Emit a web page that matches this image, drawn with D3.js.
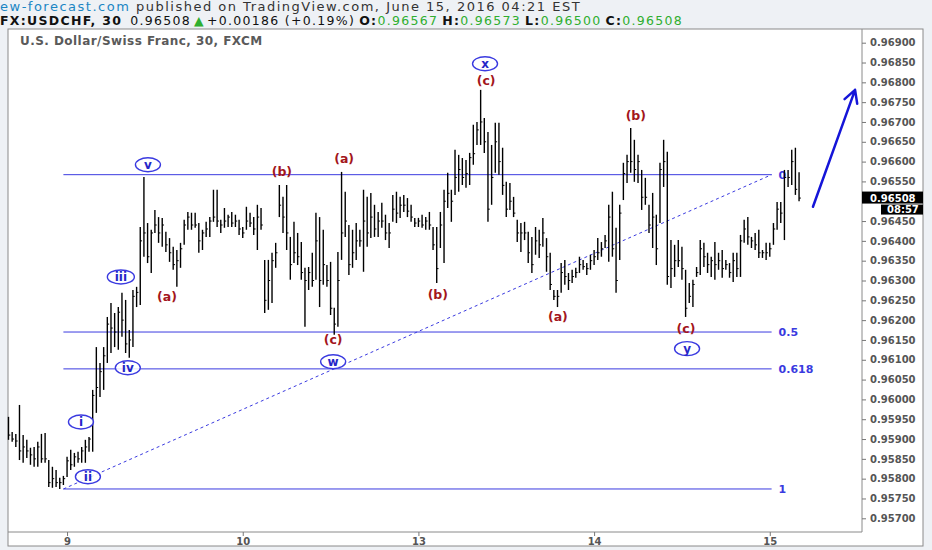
<!DOCTYPE html>
<html>
<head>
<meta charset="utf-8">
<script src="https://cdn.jsdelivr.net/npm/d3@7"></script>
<style>
  body { margin: 0; background: #eef1f5; }
  svg { display: block; }
</style>
</head>
<body>
<svg id="chart" width="932" height="550"></svg>
<script>
// 30 min USDCHF bars, one entry per bar
const barHigh = [
  0.95956,0.95918,0.95913,0.95986,0.95910,0.95898,0.95878,0.95880,0.95893,0.95913,
  0.95915,0.95847,0.95830,0.95822,0.95802,0.95807,0.95855,0.95873,0.95865,0.95868,
  0.95880,0.95898,0.95905,0.96024,0.96132,0.96092,0.96132,0.96208,0.96243,0.96218,
  0.96233,0.96269,0.96251,0.96175,0.96276,0.96284,0.96435,0.96561,0.96445,0.96428,
  0.96478,0.96460,0.96458,0.96423,0.96407,0.96385,0.96377,0.96395,0.96453,0.96473,
  0.96471,0.96471,0.96445,0.96428,0.96448,0.96460,0.96529,0.96529,0.96453,0.96483,
  0.96466,0.96473,0.96466,0.96453,0.96435,0.96486,0.96471,0.96460,0.96491,0.96483,
  0.96352,0.96352,0.96370,0.96395,0.96541,0.96511,0.96541,0.96410,0.96448,0.96420,
  0.96397,0.96332,0.96334,0.96370,0.96471,0.96460,0.96428,0.96339,0.96347,0.96231,
  0.96372,0.96574,0.96524,0.96440,0.96428,0.96445,0.96428,0.96529,0.96511,0.96521,
  0.96491,0.96473,0.96496,0.96466,0.96445,0.96516,0.96524,0.96511,0.96516,0.96508,
  0.96491,0.96458,0.96458,0.96466,0.96460,0.96473,0.96435,0.96435,0.96473,0.96529,
  0.96572,0.96529,0.96630,0.96617,0.96609,0.96604,0.96622,0.96693,0.96700,0.96781,
  0.96710,0.96675,0.96642,0.96698,0.96698,0.96635,0.96549,0.96546,0.96511,0.96453,
  0.96445,0.96448,0.96423,0.96410,0.96435,0.96428,0.96458,0.96407,0.96370,0.96276,
  0.96276,0.96344,0.96352,0.96319,0.96327,0.96332,0.96360,0.96352,0.96344,0.96365,
  0.96377,0.96407,0.96397,0.96415,0.96491,0.96524,0.96433,0.96491,0.96597,0.96617,
  0.96685,0.96655,0.96617,0.96579,0.96559,0.96491,0.96521,0.96466,0.96597,0.96655,
  0.96625,0.96402,0.96390,0.96402,0.96385,0.96327,0.96294,0.96302,0.96334,0.96402,
  0.96395,0.96370,0.96360,0.96397,0.96370,0.96377,0.96352,0.96344,0.96370,0.96370,
  0.96415,0.96453,0.96460,0.96410,0.96420,0.96428,0.96377,0.96395,0.96395,0.96445,
  0.96498,0.96498,0.96579,0.96579,0.96630,0.96635,0.96573
];
const barLow = [
  0.95898,0.95893,0.95880,0.95847,0.95840,0.95852,0.95835,0.95830,0.95830,0.95840,
  0.95840,0.95779,0.95777,0.95779,0.95774,0.95784,0.95804,0.95822,0.95830,0.95840,
  0.95840,0.95840,0.95868,0.95868,0.95966,0.96006,0.96024,0.96092,0.96117,0.96132,
  0.96125,0.96158,0.96117,0.96105,0.96132,0.96233,0.96238,0.96360,0.96344,0.96319,
  0.96420,0.96395,0.96385,0.96372,0.96347,0.96327,0.96284,0.96332,0.96390,0.96428,
  0.96428,0.96433,0.96370,0.96377,0.96410,0.96410,0.96448,0.96435,0.96420,0.96433,
  0.96435,0.96435,0.96435,0.96415,0.96407,0.96428,0.96435,0.96415,0.96377,0.96428,
  0.96218,0.96226,0.96243,0.96332,0.96460,0.96420,0.96377,0.96302,0.96344,0.96339,
  0.96302,0.96183,0.96276,0.96284,0.96302,0.96233,0.96289,0.96284,0.96213,0.96163,
  0.96183,0.96352,0.96410,0.96314,0.96332,0.96352,0.96385,0.96322,0.96385,0.96407,
  0.96410,0.96410,0.96433,0.96402,0.96382,0.96448,0.96445,0.96458,0.96473,0.96460,
  0.96448,0.96435,0.96435,0.96433,0.96428,0.96428,0.96377,0.96294,0.96382,0.96344,
  0.96483,0.96448,0.96516,0.96524,0.96541,0.96534,0.96541,0.96592,0.96642,0.96642,
  0.96622,0.96448,0.96491,0.96572,0.96567,0.96516,0.96460,0.96478,0.96460,0.96397,
  0.96372,0.96402,0.96344,0.96319,0.96365,0.96357,0.96385,0.96322,0.96276,0.96251,
  0.96233,0.96269,0.96289,0.96276,0.96294,0.96307,0.96319,0.96327,0.96314,0.96327,
  0.96339,0.96352,0.96360,0.96382,0.96347,0.96360,0.96269,0.96352,0.96503,0.96546,
  0.96572,0.96549,0.96546,0.96478,0.96491,0.96420,0.96382,0.96339,0.96445,0.96536,
  0.96289,0.96281,0.96309,0.96334,0.96302,0.96208,0.96243,0.96233,0.96309,0.96314,
  0.96334,0.96319,0.96309,0.96302,0.96327,0.96307,0.96327,0.96307,0.96296,0.96309,
  0.96309,0.96395,0.96390,0.96382,0.96377,0.96357,0.96357,0.96352,0.96360,0.96390,
  0.96428,0.96445,0.96402,0.96536,0.96541,0.96516,0.96500
];
const barClose = [
  0.95910,0.95900,0.95895,0.95870,0.95880,0.95870,0.95860,0.95850,0.95880,0.95850,
  0.95850,0.95790,0.95800,0.95790,0.95790,0.95800,0.95845,0.95835,0.95855,0.95850,
  0.95870,0.95880,0.95900,0.96010,0.96030,0.96070,0.96110,0.96190,0.96180,0.96170,
  0.96220,0.96200,0.96140,0.96150,0.96260,0.96270,0.96400,0.96420,0.96360,0.96420,
  0.96440,0.96420,0.96440,0.96390,0.96370,0.96340,0.96350,0.96380,0.96440,0.96460,
  0.96440,0.96440,0.96400,0.96420,0.96430,0.96450,0.96460,0.96450,0.96440,0.96450,
  0.96460,0.96445,0.96450,0.96430,0.96420,0.96450,0.96445,0.96430,0.96460,0.96440,
  0.96250,0.96300,0.96350,0.96370,0.96490,0.96460,0.96420,0.96340,0.96370,0.96360,
  0.96320,0.96300,0.96320,0.96300,0.96400,0.96300,0.96340,0.96300,0.96230,0.96190,
  0.96300,0.96420,0.96450,0.96340,0.96370,0.96400,0.96400,0.96450,0.96420,0.96460,
  0.96430,0.96450,0.96450,0.96420,0.96420,0.96480,0.96470,0.96490,0.96490,0.96475,
  0.96460,0.96445,0.96450,0.96440,0.96450,0.96440,0.96390,0.96330,0.96440,0.96500,
  0.96520,0.96500,0.96560,0.96580,0.96560,0.96570,0.96610,0.96620,0.96680,0.96700,
  0.96650,0.96480,0.96560,0.96650,0.96600,0.96540,0.96480,0.96500,0.96470,0.96420,
  0.96420,0.96420,0.96370,0.96340,0.96400,0.96390,0.96420,0.96360,0.96290,0.96260,
  0.96260,0.96320,0.96310,0.96300,0.96310,0.96320,0.96340,0.96335,0.96330,0.96350,
  0.96360,0.96370,0.96380,0.96400,0.96460,0.96380,0.96300,0.96470,0.96570,0.96600,
  0.96600,0.96580,0.96600,0.96510,0.96510,0.96440,0.96460,0.96380,0.96580,0.96600,
  0.96310,0.96330,0.96350,0.96350,0.96330,0.96230,0.96260,0.96290,0.96320,0.96380,
  0.96360,0.96340,0.96350,0.96340,0.96350,0.96330,0.96340,0.96320,0.96350,0.96330,
  0.96400,0.96430,0.96410,0.96400,0.96390,0.96370,0.96370,0.96370,0.96380,0.96430,
  0.96480,0.96470,0.96560,0.96560,0.96600,0.96530,0.96508
];

// day separators on the time axis (bar index of each new day)
const dayIndex = [16, 64, 112, 160, 208];
const dayLabels = ["9", "10", "13", "14", "15"];

// fibonacci retracement drawn from the 0.95774 low to the 0.96567 high
const fibLevels = ["0", "0.5", "0.618", "1"];
const fibPrices = [0.96567, 0.96170, 0.96077, 0.95774];
const fibStart = 15, fibEnd = 208.5;

// elliott wave counts (circled, blue)
const waveCircle = ["i", "ii", "iii", "iv", "v", "w", "x", "y"];
const waveCircleIdx = [19.8, 21.7, 30.7, 32.6, 38.1, 88.7, 130.2, 185.4];
const waveCirclePrice = [0.95943, 0.95805, 0.96309, 0.96080, 0.96592, 0.96095, 0.96847, 0.96128];

// corrective sub waves (red)
const waveAbc = ["(a)", "(b)", "(c)", "(a)", "(b)", "(c)", "(a)", "(b)", "(c)"];
const waveAbcIdx = [43.3, 74.7, 88.7, 91.7, 117.3, 130.5, 150.1, 171.4, 185.1];
const waveAbcPrice = [0.96259, 0.96574, 0.96150, 0.96607, 0.96264, 0.96804, 0.96208, 0.96715, 0.96178];

// projected move
const arrowIdx = [219.8, 231.3];
const arrowPrice = [0.96486, 0.96781];

const priceTicks = d3.range(0.957, 0.96901, 0.0005);
const lastPrice = 0.96508;

// header quote
const quote = { symbol: "FX:USDCHF, 30", last: "0.96508", change: "+0.00186 (+0.19%)" };
const ohlcKeys = ["O:", "H:", "L:", "C:"];
const ohlcValues = ["0.96567", "0.96573", "0.96500", "0.96508"];

const blue = "#3a3ae0";
const red = "#a3161c";
const green = "#2fae2f";

const svg = d3.select("#chart");

// plot frame
const plot = { left: 8, top: 29, right: 862, bottom: 532 };

svg.append("rect")
  .attr("x", plot.left).attr("y", plot.top)
  .attr("width", 923 - plot.left).attr("height", 546 - plot.top)
  .attr("fill", "#fff").attr("stroke", "#8a8a8a");

// scales
const x = d3.scaleLinear().domain([0, 216]).range([8.5, 8.5 + 216 * 3.66]);
const y = d3.scaleLinear().domain([0.957, 0.969]).range([518.3, 42.7]);

// axis separators
svg.append("line")
  .attr("x1", plot.right).attr("x2", plot.right)
  .attr("y1", plot.top).attr("y2", plot.bottom)
  .attr("stroke", "#8a8a8a");
svg.append("line")
  .attr("x1", plot.left).attr("x2", plot.right)
  .attr("y1", plot.bottom).attr("y2", plot.bottom)
  .attr("stroke", "#8a8a8a");

// price axis (the label under the last price tag is hidden like on the site)
const yAxis = svg.append("g")
  .attr("transform", `translate(${plot.right},0)`)
  .call(d3.axisRight(y).tickValues(priceTicks).tickFormat(d3.format(".5f")).tickSize(4).tickPadding(4));
yAxis.select(".domain").remove();
yAxis.selectAll("line").attr("stroke", "#777");
yAxis.selectAll("text")
  .attr("fill", "#555")
  .style("font-family", "DejaVu Sans")
  .style("font-size", "10px")
  .style("font-weight", "bold");
yAxis.selectAll(".tick")
  .filter(d => Math.abs(y(d) - y(lastPrice)) < 12)
  .remove();

// time axis
const xAxis = svg.append("g")
  .attr("transform", `translate(0,${plot.bottom})`)
  .call(d3.axisBottom(x).tickValues(dayIndex).tickFormat((d, i) => dayLabels[i]).tickSize(4).tickPadding(2));
xAxis.select(".domain").remove();
xAxis.selectAll("line").attr("stroke", "#777");
xAxis.selectAll("text")
  .attr("fill", "#555")
  .style("font-family", "DejaVu Sans")
  .style("font-size", "10px")
  .style("font-weight", "bold");

// header, line 1
const head1 = svg.append("text")
  .attr("x", 0).attr("y", 11)
  .style("font-family", "DejaVu Sans").style("font-size", "13px")
  .style("letter-spacing", "1.5px");
head1.append("tspan").attr("fill", "#1b86c4").text("ew-forecast.com");
head1.append("tspan").attr("fill", "#333").text(" published on TradingView.com, June 15, 2016 04:21 EST");

// header, line 2: pieces laid out one after another
let cursor = 0;
function headPiece(txt, color, bold, gap) {
  const t = svg.append("text")
    .attr("x", cursor + gap).attr("y", 24.5)
    .attr("fill", color)
    .style("font-family", "DejaVu Sans").style("font-size", "12.5px")
    .style("letter-spacing", "1.3px")
    .style("font-weight", bold ? "bold" : "normal")
    .text(txt);
  cursor += gap + t.node().getComputedTextLength();
}
headPiece(quote.symbol, "#111", true, 0);
headPiece(quote.last, "#111", false, 8);
headPiece("▲", green, false, 3);
headPiece(quote.change, "#111", false, 2);
ohlcKeys.forEach(function (k, i) {
  headPiece(k, "#111", true, 4);
  headPiece(ohlcValues[i], green, false, 0);
});

svg.append("text")
  .attr("x", 20).attr("y", 45)
  .attr("fill", "#5a5a5a")
  .style("font-family", "DejaVu Sans").style("font-size", "12px").style("font-weight", "bold")
  .style("letter-spacing", "0.45px")
  .text("U.S. Dollar/Swiss Franc, 30, FXCM");

// fib levels
svg.append("g")
  .selectAll("line")
  .data(fibPrices)
  .join("line")
  .attr("x1", x(fibStart)).attr("x2", x(fibEnd))
  .attr("y1", d => y(d)).attr("y2", d => y(d))
  .attr("stroke", blue).attr("stroke-width", 1);
svg.append("g")
  .selectAll("text")
  .data(fibPrices)
  .join("text")
  .attr("x", x(fibEnd) + 7)
  .attr("y", d => y(d))
  .attr("dy", "0.35em")
  .attr("fill", blue)
  .style("font-family", "DejaVu Sans").style("font-size", "11px").style("font-weight", "bold")
  .text((d, i) => fibLevels[i]);

// fib trend (dashed diagonal)
svg.append("line")
  .attr("x1", x(fibStart)).attr("y1", y(fibPrices[3]))
  .attr("x2", x(fibEnd)).attr("y2", y(fibPrices[0]))
  .attr("stroke", blue).attr("stroke-width", 1).attr("stroke-dasharray", "3,3");

// OHLC bars
const bars = svg.append("g")
  .selectAll("g")
  .data(barHigh.map((h, i) => ({ i: i, high: h, low: barLow[i], close: barClose[i] })))
  .join("g");
bars.append("line")
  .attr("x1", d => x(d.i)).attr("x2", d => x(d.i))
  .attr("y1", d => y(d.high)).attr("y2", d => y(d.low))
  .attr("stroke", "#000").attr("stroke-width", 1.4);
bars.append("line")
  .attr("x1", d => x(d.i)).attr("x2", d => x(d.i) + 1.8)
  .attr("y1", d => y(d.close)).attr("y2", d => y(d.close))
  .attr("stroke", "#000").attr("stroke-width", 1);

// circled wave labels
const circ = svg.append("g")
  .selectAll("g")
  .data(waveCircle)
  .join("g")
  .attr("transform", (d, i) => `translate(${x(waveCircleIdx[i])},${y(waveCirclePrice[i])})`);
circ.append("ellipse")
  .attr("rx", d => d.length > 2 ? 13.5 : 12.5).attr("ry", 7)
  .attr("fill", "#fff").attr("fill-opacity", 0.85)
  .attr("stroke", blue).attr("stroke-width", 1.4);
circ.append("text")
  .attr("text-anchor", "middle").attr("dy", "0.35em")
  .attr("fill", "#2626c8")
  .style("font-family", "DejaVu Sans").style("font-size", "12px").style("font-weight", "bold")
  .text(d => d);

// (a)(b)(c) labels
svg.append("g")
  .selectAll("text")
  .data(waveAbc)
  .join("text")
  .attr("x", (d, i) => x(waveAbcIdx[i]))
  .attr("y", (d, i) => y(waveAbcPrice[i]))
  .attr("text-anchor", "middle").attr("dy", "0.35em")
  .attr("fill", red)
  .style("font-family", "DejaVu Sans").style("font-size", "12.5px").style("font-weight", "bold")
  .text(d => d);

// projection arrow
const ax1 = x(arrowIdx[0]), ay1 = y(arrowPrice[0]);
const ax2 = x(arrowIdx[1]), ay2 = y(arrowPrice[1]);
const ang = Math.atan2(ay2 - ay1, ax2 - ax1);
const head = 14, spread = 0.5;
svg.append("path")
  .attr("d", `M${ax1},${ay1}L${ax2},${ay2}` +
    `M${ax2 - head * Math.cos(ang - spread)},${ay2 - head * Math.sin(ang - spread)}L${ax2},${ay2}` +
    `L${ax2 - head * Math.cos(ang + spread)},${ay2 - head * Math.sin(ang + spread)}`)
  .attr("fill", "none").attr("stroke", "#1515d8").attr("stroke-width", 2.5)
  .attr("stroke-linecap", "round").attr("stroke-linejoin", "round");

// last price tag and bar countdown
const tag = svg.append("g");
tag.append("rect")
  .attr("x", plot.right).attr("y", y(lastPrice) - 6.5)
  .attr("width", 61).attr("height", 12).attr("fill", "#000");
tag.append("text")
  .attr("x", plot.right + 8).attr("y", y(lastPrice)).attr("dy", "0.35em")
  .attr("fill", "#fff")
  .style("font-family", "DejaVu Sans").style("font-size", "10px").style("font-weight", "bold")
  .text(d3.format(".5f")(lastPrice));
tag.append("rect")
  .attr("x", 881).attr("y", y(lastPrice) + 6.5)
  .attr("width", 42).attr("height", 10).attr("fill", "#000");
tag.append("text")
  .attr("x", 887).attr("y", y(lastPrice) + 11.5).attr("dy", "0.35em")
  .attr("fill", "#fff")
  .style("font-family", "DejaVu Sans").style("font-size", "10px").style("font-weight", "bold")
  .text("08:57");
</script>
</body>
</html>
